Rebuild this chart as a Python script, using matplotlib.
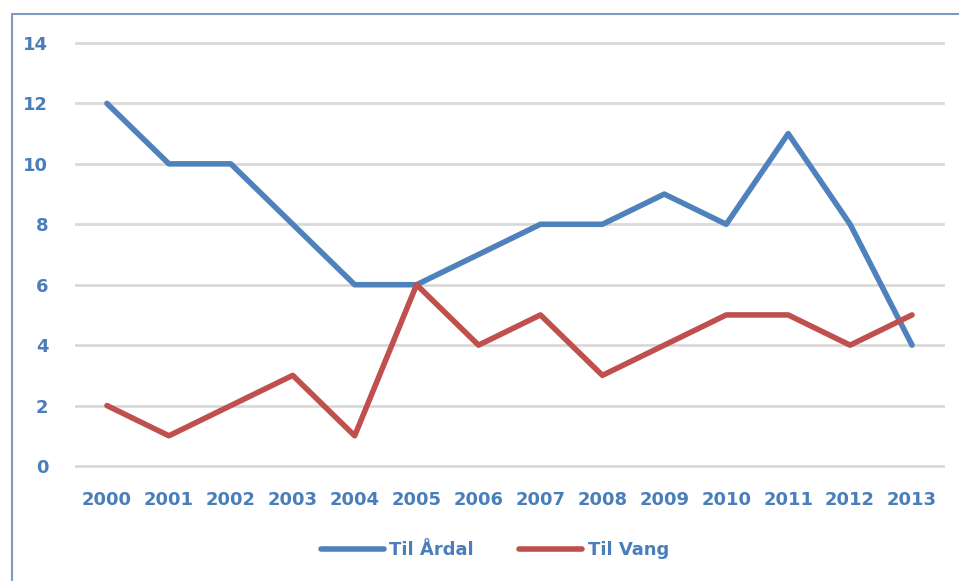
import matplotlib
matplotlib.use("Agg")
import matplotlib.pyplot as plt
from matplotlib.patches import Rectangle

years = ["2000", "2001", "2002", "2003", "2004", "2005", "2006", "2007",
         "2008", "2009", "2010", "2011", "2012", "2013"]
til_ardal = [12, 10, 10, 8, 6, 6, 7, 8, 8, 9, 8, 11, 8, 4]
til_vang = [2, 1, 2, 3, 1, 6, 4, 5, 3, 4, 5, 5, 4, 5]
yticks = [0, 2, 4, 6, 8, 10, 12, 14]

blue = "#4f81bd"
red = "#c0504d"
label_color = "#4a7ebb"

plt.rcParams['font.family'] = ['DejaVu Sans']

fig = plt.figure(figsize=(9.59, 5.81), dpi=100)
fig.patches.append(Rectangle((12/959, -0.1), 1.1, 1 - 14/581 + 0.1,
                             transform=fig.transFigure, fill=False,
                             edgecolor="#7f9bbf", linewidth=1.5))
ax = fig.add_axes([76/959, 1 - 466/581, (943-76)/959, (466-43)/581])

x = list(range(len(years)))
ax.plot(x, til_ardal, color=blue, linewidth=4, label="Til Årdal",
        solid_capstyle="round", solid_joinstyle="round", zorder=3)
ax.plot(x, til_vang, color=red, linewidth=4, label="Til Vang",
        solid_capstyle="round", solid_joinstyle="round", zorder=3)

ax.set_xlim(-0.5, len(years) - 0.5)
ax.set_ylim(0, 14)
ax.set_yticks(yticks)
ax.set_xticks(x)
ax.set_xticklabels(years)
for yv in yticks:
    ax.axhline(yv, color="#d9d9d9", linewidth=2, clip_on=False, zorder=1)
for s in ax.spines.values():
    s.set_visible(False)
ax.tick_params(length=0, labelsize=13, labelcolor=label_color)
ax.tick_params(axis="x", pad=18)
ax.tick_params(axis="y", pad=20)
for lbl in ax.get_xticklabels() + ax.get_yticklabels():
    lbl.set_fontweight("bold")

leg = fig.legend(loc="center", bbox_to_anchor=(495/959, 1 - 550/581), ncol=2,
                 frameon=False, handlelength=3.5, columnspacing=2.5,
                 handletextpad=0.3,
                 prop={"weight": "bold", "size": 13})
for t in leg.get_texts():
    t.set_color(label_color)

fig.savefig("out.png", dpi=100)
